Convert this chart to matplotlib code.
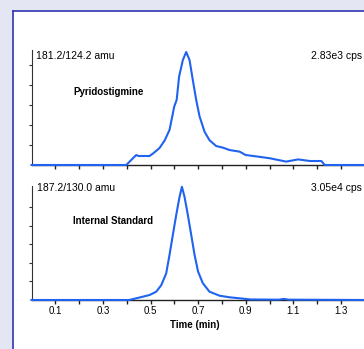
import matplotlib
matplotlib.use("Agg")
import matplotlib.pyplot as plt
from matplotlib.patches import Rectangle

plt.rcParams['font.family'] = ['Liberation Sans', 'DejaVu Sans']

# Pyridostigmine trace, 181.2/124.2 amu (time in min, intensity in cps)
t_pyr = [0.0, 0.398, 0.44, 0.45, 0.496, 0.51, 0.538, 0.56, 0.58, 0.60, 0.61,
         0.62, 0.636, 0.65, 0.664, 0.678, 0.692, 0.706, 0.727, 0.748, 0.776,
         0.804, 0.832, 0.874, 0.90, 0.958, 1.0, 1.07, 1.12, 1.17, 1.218,
         1.232, 1.40]
cps_pyr = [0, 0, 250, 225, 225, 285, 425, 620, 880, 1470, 1630,
           2210, 2630, 2830, 2630, 2120, 1630, 1220, 835, 620, 475,
           435, 375, 335, 250, 205, 170, 85, 140, 100, 100,
           0, 0]

# Internal standard trace, 187.2/130.0 amu
t_is = [0.0, 0.41, 0.45, 0.496, 0.524, 0.545, 0.566, 0.58, 0.594, 0.608,
        0.622, 0.632, 0.643, 0.657, 0.671, 0.685, 0.70, 0.72, 0.748, 0.79,
        0.832, 0.874, 0.92, 1.04, 1.06, 1.08, 1.40]
cps_is = [0, 0, 610, 1340, 2230, 3970, 7170, 12200, 17570, 22880,
          27760, 30500, 27760, 22880, 17570, 12200, 7620, 4510, 2230, 1160,
          730, 460, 150, 90, 300, 90, 0]

xticks = [0.1, 0.2, 0.3, 0.4, 0.5, 0.6, 0.7, 0.8, 0.9, 1.0, 1.1, 1.2, 1.3]
xlabels = ['0.1', '', '0.3', '', '0.5', '', '0.7', '', '0.9', '', '1.1', '', '1.3']

W, H = 364, 349
fig = plt.figure(figsize=(W / 100, H / 100), dpi=100)
fig.patch.set_facecolor('#e4e6f3')

# white panel with blue border on left/top
fig.add_artist(Rectangle((13 / W, 0), 1, 1 - 11 / H, transform=fig.transFigure,
                         facecolor='white', edgecolor='none', zorder=0))
fig.add_artist(plt.Line2D([13 / W, 13 / W], [0, 1 - 11 / H], transform=fig.transFigure,
                          color='#3434b4', lw=1.2, zorder=1))
fig.add_artist(plt.Line2D([13 / W, 1], [1 - 11 / H, 1 - 11 / H], transform=fig.transFigure,
                          color='#3434b4', lw=1.2, zorder=1))

x0 = 31.5 / W
ax1 = fig.add_axes([x0, (H - 165) / H, 1 - x0, 115 / H])
ax2 = fig.add_axes([x0, (H - 300) / H, 1 - x0, 114 / H])

blue = '#1f63f0'
ax1.plot(t_pyr, cps_pyr, color=blue, lw=1.5, zorder=3, clip_on=False)
ax2.plot(t_is, cps_is, color=blue, lw=1.5, zorder=3, clip_on=False)

ax1.set_ylim(0, 2880)
ax2.set_ylim(0, 30700)
ax1.set_yticks([500, 1000, 1500, 2000, 2500])
ax2.set_yticks([5000, 10000, 15000, 20000, 25000])

for ax in (ax1, ax2):
    ax.set_facecolor('none')
    ax.set_xlim(0, (W - 31.5) / 238)
    ax.set_xticks(xticks)
    ax.spines['top'].set_visible(False)
    ax.spines['right'].set_visible(False)
    ax.spines['left'].set_color('#333333')
    ax.spines['bottom'].set_color('#222222')
    ax.spines['left'].set_linewidth(0.8)
    ax.spines['bottom'].set_linewidth(1.0)
    ax.set_yticklabels([])
    ax.tick_params(axis='y', length=2.5, width=0.8, color='#333333')
    ax.tick_params(axis='x', length=3, width=1.0, color='#222222', pad=1)

ax1.set_xticklabels([])
ax2.set_xticklabels(xlabels, fontsize=7)

fig.text(36 / W, 1 - 56 / H, '181.2/124.2 amu', fontsize=7.5, va='center', ha='left')
fig.text(362 / W, 1 - 56 / H, '2.83e3 cps', fontsize=7.5, va='center', ha='right')
fig.text(73 / W, 1 - 92 / H, 'Pyridostigmine', fontsize=7, fontweight='bold', va='center')

fig.text(37 / W, 1 - 188 / H, '187.2/130.0 amu', fontsize=7.5, va='center', ha='left')
fig.text(362 / W, 1 - 188 / H, '3.05e4 cps', fontsize=7.5, va='center', ha='right')
fig.text(73 / W, 1 - 221 / H, 'Internal Standard', fontsize=7, fontweight='bold', va='center')

fig.text(195 / W, 1 - 324.5 / H, 'Time (min)', fontsize=7, fontweight='bold', va='center', ha='center')

fig.savefig('out.png', dpi=100, facecolor=fig.get_facecolor())
